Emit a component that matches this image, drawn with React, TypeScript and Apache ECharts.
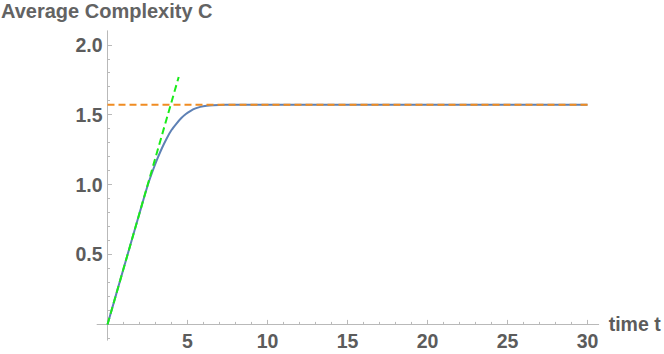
import React, { useEffect, useRef } from "react";
import * as echarts from "echarts";

const timeValues = [0, 1, 2, 2.5, 2.8, 3.1, 3.4, 3.7, 4, 4.3, 4.6, 4.9, 5.2, 5.5, 5.8, 6.2, 6.6, 7, 7.5, 8, 10, 15, 20, 25, 30];
const complexityValues = [0, 0.398, 0.795, 0.99, 1.09, 1.18, 1.26, 1.33, 1.39, 1.435, 1.475, 1.505, 1.528, 1.545, 1.556, 1.564, 1.568, 1.57, 1.5705, 1.5708, 1.5708, 1.5708, 1.5708, 1.5708, 1.5708];
const asymptoteT = [0, 30];
const asymptoteC = [1.5708, 1.5708];
const slopeT = [0, 4.45];
const slopeC = [0, 1.77];

const xMajorTicks = [0, 5, 10, 15, 20, 25, 30];
const xLabelValues = [5, 10, 15, 20, 25, 30];
const xMinorTicks = [1, 2, 3, 4, 6, 7, 8, 9, 11, 12, 13, 14, 16, 17, 18, 19, 21, 22, 23, 24, 26, 27, 28, 29];
const yMajorTicks = [0, 0.5, 1, 1.5, 2];
const yLabelValues = [0.5, 1, 1.5, 2];
const yMinorTicks = [-0.1, 0.1, 0.2, 0.3, 0.4, 0.6, 0.7, 0.8, 0.9, 1.1, 1.2, 1.3, 1.4, 1.6, 1.7, 1.8, 1.9];

const titleText = "Average Complexity C";
const xName = "time t";

const AXIS_COLOR = "#b9b9b9";
const TEXT_COLOR = "#5c5c5c";
const FONT = "'Liberation Sans', Arial, sans-serif";

export default function App() {
  const ref = useRef<HTMLDivElement>(null);
  useEffect(() => {
    if (!ref.current) return;
    const chart = echarts.init(ref.current, null, { renderer: "svg" });
    const labelStyle = {
      fontFamily: FONT,
      fontWeight: "bold" as const,
      fontSize: 19.5,
      color: TEXT_COLOR,
    };
    const xMin = -0.65;
    const xMax = 30.7;
    const yMin = -0.113;
    const yMax = 2.1;
    chart.setOption({
      animation: false,
      backgroundColor: "#ffffff",
      title: {
        text: titleText,
        left: 1,
        top: 1,
        padding: 0,
        textStyle: { fontFamily: FONT, fontWeight: "bold", fontSize: 20, color: "#636363" },
      },
      grid: { left: 97.1, right: 65.3, top: 30.8, bottom: 13.8, containLabel: false, outerBoundsMode: "none" },
      xAxis: [
        {
          type: "value",
          min: xMin,
          max: xMax,
          position: "bottom",
          name: xName,
          nameLocation: "end",
          nameGap: 10,
          nameTextStyle: { ...labelStyle, verticalAlign: "middle" },
          axisLine: { show: true, onZero: true, onZeroAxisIndex: 0, lineStyle: { color: AXIS_COLOR, width: 1 } },
          axisTick: { show: true, inside: true, length: 4.5, customValues: xMajorTicks, lineStyle: { color: AXIS_COLOR } },
          axisLabel: {
            show: true,
            customValues: xLabelValues,
            margin: -9,
            ...labelStyle,
            formatter: (v: number) => String(v),
          },
          splitLine: { show: false },
        },
        {
          type: "value",
          min: xMin,
          max: xMax,
          position: "bottom",
          axisLine: { show: false, onZero: true, onZeroAxisIndex: 0 },
          axisTick: { show: true, inside: true, length: 2.5, customValues: xMinorTicks, lineStyle: { color: AXIS_COLOR } },
          axisLabel: { show: false },
          splitLine: { show: false },
        },
      ],
      yAxis: [
        {
          type: "value",
          min: yMin,
          max: yMax,
          position: "left",
          axisLine: { show: true, onZero: true, onZeroAxisIndex: 0, lineStyle: { color: AXIS_COLOR, width: 1 } },
          axisTick: { show: true, inside: true, length: 4.5, customValues: yMajorTicks, lineStyle: { color: AXIS_COLOR } },
          axisLabel: {
            show: true,
            customValues: yLabelValues,
            margin: -5.5,
            ...labelStyle,
            formatter: (v: number) => v.toFixed(1),
          },
          splitLine: { show: false },
        },
        {
          type: "value",
          min: yMin,
          max: yMax,
          position: "left",
          axisLine: { show: false, onZero: true, onZeroAxisIndex: 0 },
          axisTick: { show: true, inside: true, length: 2.5, customValues: yMinorTicks, lineStyle: { color: AXIS_COLOR } },
          axisLabel: { show: false },
          splitLine: { show: false },
        },
      ],
      series: [
        {
          type: "line",
          xAxisIndex: 0,
          yAxisIndex: 0,
          data: timeValues.map((t, i) => [t, complexityValues[i]]),
          showSymbol: false,
          smooth: 0.25,
          lineStyle: { color: "#5e81b5", width: 2 },
          z: 2,
        },
        {
          type: "line",
          xAxisIndex: 0,
          yAxisIndex: 0,
          data: asymptoteT.map((t, i) => [t, asymptoteC[i]]),
          showSymbol: false,
          lineStyle: { color: "#f08c22", width: 2, type: [7, 4] },
          z: 3,
        },
        {
          type: "line",
          xAxisIndex: 0,
          yAxisIndex: 0,
          data: slopeT.map((t, i) => [t, slopeC[i]]),
          showSymbol: false,
          lineStyle: { color: "#1aeb1a", width: 2, type: [7, 4] },
          z: 4,
        },
      ],
    });
    return () => chart.dispose();
  }, []);
  return (
    <div
      ref={ref}
      style={{ position: "fixed", left: 0, top: 0, width: 664, height: 354, background: "#fff" }}
    />
  );
}
